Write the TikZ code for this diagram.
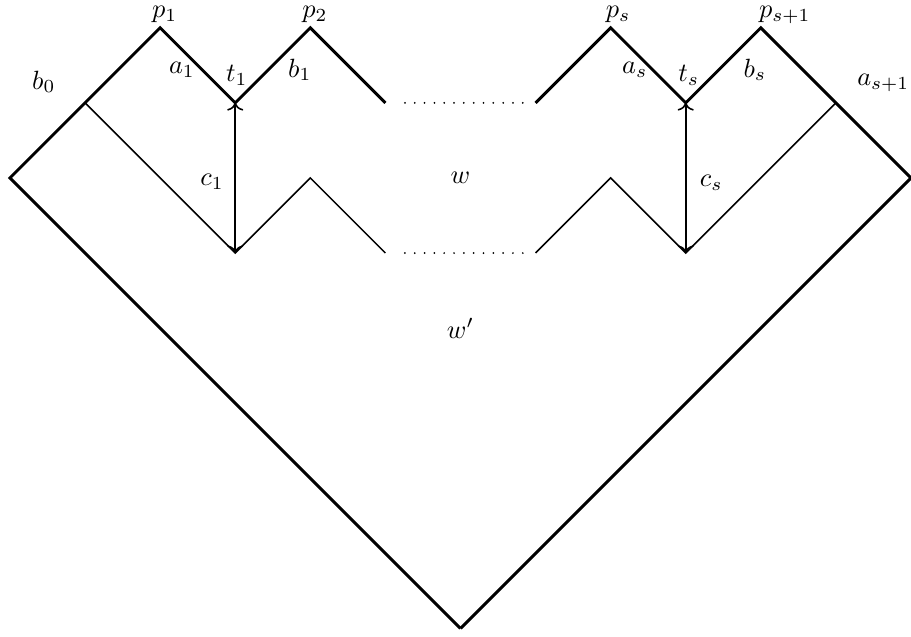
\documentclass[tikz,border=0pt]{standalone}
\usetikzlibrary{arrows.meta}
\begin{document}
\begin{tikzpicture}[x=1cm,y=1cm,
  bold/.style={line width=1.1pt},
  fine/.style={line width=0.6pt},
  dotrow/.style={line width=0.75pt,line cap=round,dash pattern=on 0pt off 0.1308cm},
  lab/.style={inner sep=0pt}]
\useasboundingbox (-0.133,-6.11) rectangle (12.0,2.37);
% coordinates
\coordinate (L) at (0,0);
\coordinate (B0) at (1,1);
\coordinate (P1) at (2,2);
\coordinate (T1) at (3,1);
\coordinate (P2) at (4,2);
\coordinate (E1) at (5,1);
\coordinate (S1) at (7,1);
\coordinate (PS) at (8,2);
\coordinate (TS) at (9,1);
\coordinate (PS1) at (10,2);
\coordinate (AS1) at (11,1);
\coordinate (R) at (12,0);
\coordinate (Bot) at (6,-6);
\coordinate (U1) at (3,-1);
\coordinate (Q2) at (4,0);
\coordinate (E2) at (5,-1);
\coordinate (S2) at (7,-1);
\coordinate (QS) at (8,0);
\coordinate (US) at (9,-1);
\coordinate (D1a) at (5.26,1);
\coordinate (D1b) at (6.83,1);
\coordinate (D2a) at (5.26,-1);
\coordinate (D2b) at (6.83,-1);
% thick outline
\draw[bold] (Bot) -- (L) -- (B0) -- (P1) -- (T1) -- (P2) -- (E1);
\draw[bold] (S1) -- (PS) -- (TS) -- (PS1) -- (AS1) -- (R) -- (Bot);
% thin inner path
\draw[fine] (B0) -- (U1) -- (Q2) -- (E2);
\draw[fine] (S2) -- (QS) -- (US) -- (AS1);
% dots
\draw[dotrow] (D1a) -- (D1b);
\draw[dotrow] (D2a) -- (D2b);
% arrows
\draw[fine,<->] (U1) -- (T1);
\draw[fine,<->] (US) -- (TS);
% labels
\node[lab] (lp1) at (2.06,2.18) {$p_1$};
\node[lab] (lp2) at (4.06,2.18) {$p_2$};
\node[lab] (lps) at (8.1,2.18) {$p_s$};
\node[lab] (lps1) at (10.32,2.17) {$p_{s+1}$};
\node[lab] (la1) at (2.29,1.44) {$a_1$};
\node[lab] (lt1) at (3.02,1.36) {$t_1$};
\node[lab] (lb1) at (3.86,1.44) {$b_1$};
\node[lab] (las) at (8.32,1.44) {$a_s$};
\node[lab] (lts) at (9.04,1.36) {$t_s$};
\node[lab] (lbs) at (9.92,1.44) {$b_s$};
\node[lab] (lb0) at (0.45,1.28) {$b_0$};
\node[lab] (las1) at (11.63,1.27) {$a_{s+1}$};
\node[lab] (lc1) at (2.69,-0.05) {$c_1$};
\node[lab] (lcs) at (9.34,-0.07) {$c_s$};
\node[lab] (lw) at (6,0) {$w$};
\node[lab] (lw2) at (6,-2) {$w'$};
\end{tikzpicture}
\end{document}
